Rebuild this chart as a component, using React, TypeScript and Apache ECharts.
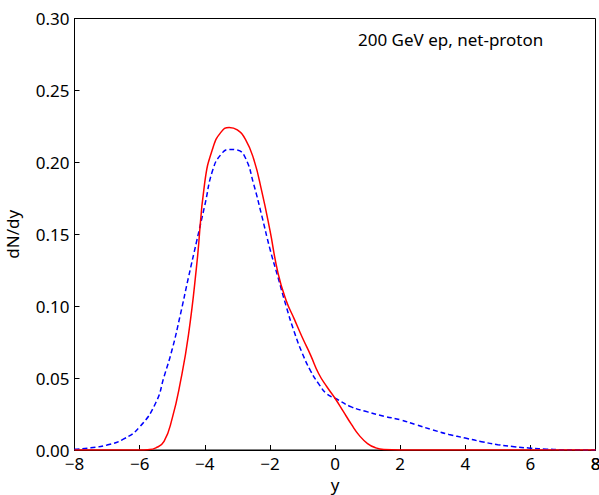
import React, { useEffect, useRef } from "react";
import * as echarts from "echarts";

const redX = [-8, -7, -6, -5.75, -5.5, -5.25, -5.0, -4.75, -4.5, -4.25, -4.0, -3.75, -3.5, -3.25, -3.0, -2.75, -2.5, -2.25, -2.0, -1.75, -1.5, -1.25, -1.0, -0.75, -0.5, -0.25, 0, 0.25, 0.5, 0.75, 1.0, 1.25, 1.5, 2, 4, 6, 8];
const redY = [0, 0, 0, 0.0002, 0.0015, 0.006, 0.022, 0.047, 0.08, 0.128, 0.186, 0.21, 0.221, 0.2243, 0.2225, 0.216, 0.2025, 0.18, 0.153, 0.123, 0.104, 0.091, 0.078, 0.066, 0.053, 0.044, 0.036, 0.027, 0.018, 0.01, 0.0045, 0.0015, 0.0003, 0, 0, 0, 0];

const blueX = [-8, -7.5, -7, -6.5, -6, -5.5, -5.25, -5, -4.75, -4.5, -4.25, -4, -3.75, -3.5, -3.25, -3, -2.75, -2.5, -2.25, -2, -1.75, -1.5, -1.25, -1, -0.75, -0.5, -0.25, 0, 0.5, 1, 1.5, 2, 2.5, 3, 3.5, 4, 4.5, 5, 5.5, 6, 6.5, 7, 7.5, 8];
const blueY = [0.0005, 0.0015, 0.0035, 0.0075, 0.016, 0.033, 0.051, 0.07, 0.094, 0.12, 0.145, 0.17, 0.195, 0.2055, 0.209, 0.2085, 0.203, 0.185, 0.163, 0.14, 0.12, 0.1, 0.082, 0.067, 0.055, 0.046, 0.039, 0.036, 0.03, 0.0265, 0.0235, 0.021, 0.0175, 0.014, 0.0108, 0.0083, 0.0058, 0.0037, 0.0023, 0.0013, 0.0006, 0.0002, 0.0001, 0];

const xTicks = [-8, -6, -4, -2, 0, 2, 4, 6, 8];
const yTicks = [0, 0.05, 0.1, 0.15, 0.2, 0.25, 0.3];
const annotation = "200 GeV ep, net-proton";
const xName = "y";
const yName = "dN/dy";

const FONT = "'Noto Sans', 'Open Sans', sans-serif";
const fmtX = (v: number) => (v < 0 ? "\u2212" + Math.abs(v) : String(v));

export default function App() {
  const ref = useRef<HTMLDivElement>(null);
  useEffect(() => {
    const chart = echarts.init(ref.current!, null, { renderer: "svg" });
    const zip = (xs: number[], ys: number[]) => xs.map((x, i) => [x, ys[i]]);
    const annotationGraphic = {
      type: "text",
      left: 358,
      top: 31,
      style: { text: annotation, fontFamily: FONT, fontSize: 17, fill: "#000" },
    };
    chart.setOption({
      animation: false,
      backgroundColor: "#fff",
      grid: {
        left: 74.5,
        right: 3.5,
        top: 18.5,
        bottom: 45,
        show: true,
        borderColor: "#000",
        borderWidth: 1,
        containLabel: false,
        outerBoundsMode: "none",
      },
      xAxis: {
        type: "value",
        min: xTicks[0],
        max: xTicks[xTicks.length - 1],
        interval: 2,
        name: xName,
        nameLocation: "middle",
        nameGap: 26,
        nameMoveOverlap: false,
        nameTextStyle: { fontFamily: FONT, fontSize: 17, color: "#000", verticalAlign: "top" },
        axisLine: { onZero: false, lineStyle: { color: "#000", width: 1 } },
        axisTick: { inside: true, length: 5, lineStyle: { color: "#000" } },
        axisLabel: {
          fontFamily: FONT,
          fontSize: 17,
          color: "#000",
          margin: 5,
          showMinLabel: true,
          showMaxLabel: true,
          alignMaxLabel: "center",
          hideOverlap: false,
          formatter: fmtX,
        },
        splitLine: { show: false },
      },
      yAxis: {
        type: "value",
        min: yTicks[0],
        max: yTicks[yTicks.length - 1],
        interval: 0.05,
        name: yName,
        nameLocation: "middle",
        nameGap: 54,
        nameMoveOverlap: false,
        nameTextStyle: { fontFamily: FONT, fontSize: 17, color: "#000" },
        axisLine: { onZero: false, lineStyle: { color: "#000", width: 1 } },
        axisTick: { inside: true, length: 5, lineStyle: { color: "#000" } },
        axisLabel: {
          fontFamily: FONT,
          fontSize: 17,
          color: "#000",
          margin: 5,
          showMinLabel: true,
          showMaxLabel: true,
          formatter: (v: number) => v.toFixed(2),
        },
        splitLine: { show: false },
      },
      graphic: [annotationGraphic],
      series: [
        {
          type: "line",
          data: zip(blueX, blueY),
          smooth: true,
          showSymbol: false,
          lineStyle: { color: "#0000ff", width: 1.5, type: [5, 3] },
        },
        {
          type: "line",
          data: zip(redX, redY),
          smooth: true,
          showSymbol: false,
          lineStyle: { color: "#ff0000", width: 1.5 },
        },
      ],
    });
    // The last x tick label can be dropped at the container edge; place it via the axis scales.
    const lastX = xTicks[xTicks.length - 1];
    const px = Number(chart.convertToPixel({ xAxisIndex: 0 }, lastX));
    const py = Number(chart.convertToPixel({ yAxisIndex: 0 }, yTicks[0]));
    if (isFinite(px) && isFinite(py)) {
      chart.setOption({
        graphic: [
          annotationGraphic,
          {
            type: "text",
            x: px,
            y: py + 5,
            z: 100,
            style: {
              text: fmtX(lastX),
              fontFamily: FONT,
              fontSize: 17,
              fill: "#000",
              align: "center",
              verticalAlign: "top",
            },
          },
        ],
      });
    }
    return () => chart.dispose();
  }, []);
  return (
    <div
      ref={ref}
      style={{ position: "absolute", left: 0, top: 0, width: 599, height: 495 }}
    />
  );
}
